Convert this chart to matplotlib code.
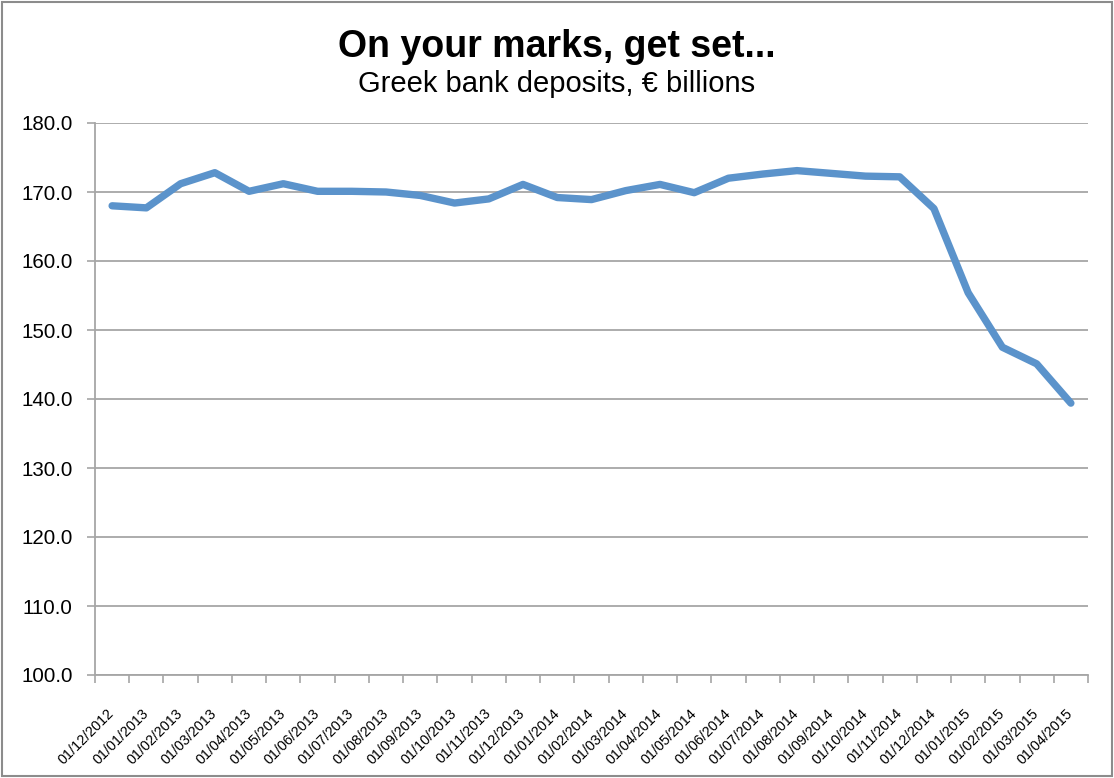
import matplotlib
matplotlib.use("Agg")
import matplotlib.pyplot as plt
from matplotlib.patches import Rectangle
from matplotlib.ticker import FixedLocator, FuncFormatter

plt.rcParams['font.family'] = ['Liberation Sans', 'DejaVu Sans']

dates = ["01/12/2012", "01/01/2013", "01/02/2013", "01/03/2013", "01/04/2013",
         "01/05/2013", "01/06/2013", "01/07/2013", "01/08/2013", "01/09/2013",
         "01/10/2013", "01/11/2013", "01/12/2013", "01/01/2014", "01/02/2014",
         "01/03/2014", "01/04/2014", "01/05/2014", "01/06/2014", "01/07/2014",
         "01/08/2014", "01/09/2014", "01/10/2014", "01/11/2014", "01/12/2014",
         "01/01/2015", "01/02/2015", "01/03/2015", "01/04/2015"]
deposits = [168.0, 167.7, 171.2, 172.8, 170.1,
            171.2, 170.1, 170.1, 170.0, 169.5,
            168.4, 169.0, 171.1, 169.2, 168.9,
            170.2, 171.1, 169.9, 172.0, 172.6,
            173.1, 172.7, 172.3, 172.2, 167.6,
            155.4, 147.5, 145.1, 139.4]
yticks = [100, 110, 120, 130, 140, 150, 160, 170, 180]

title = "On your marks, get set..."
subtitle = "Greek bank deposits, \u20ac billions"

fig = plt.figure(figsize=(11.14, 7.78), dpi=100)
ax = fig.add_axes([95/1114, 1 - 675/778, (1088-95)/1114, (675-123)/778])

x = list(range(len(dates)))
ax.plot(x, deposits, color="#5B93CB", lw=5.3, solid_capstyle="round",
        solid_joinstyle="round", zorder=3)

ax.set_xlim(-0.5, len(dates) - 0.5)
ax.set_ylim(100, 180)
ax.set_yticks(yticks)
ax.yaxis.set_major_formatter(FuncFormatter(lambda v, p: f"{v:.1f}"))
ax.grid(axis="y", color="#A6A6A6", lw=1.3, zorder=1)
ax.tick_params(axis="y", length=6, width=1.2, color="#A6A6A6", labelsize=14.8, pad=10)

ax.set_xticks(x)
ax.set_xticklabels(dates, rotation=45, ha="right", va="center",
                   rotation_mode="anchor", fontsize=10.4)
ax.tick_params(axis="x", which="major", length=0, pad=26)
ax.xaxis.set_minor_locator(FixedLocator([i - 0.5 for i in range(len(dates) + 1)]))
ax.tick_params(axis="x", which="minor", length=6, width=1.2, color="#A6A6A6")

for s in ["top", "right"]:
    ax.spines[s].set_visible(False)
for s in ["left", "bottom"]:
    ax.spines[s].set_color("#A6A6A6")
    ax.spines[s].set_linewidth(1.3)

fig.text(0.5, 1 - 57/778, title, ha="center", va="baseline",
         fontsize=27, fontweight="bold")
fig.text(0.5, 1 - 92/778, subtitle, ha="center", va="baseline", fontsize=21)

fig.patches.append(Rectangle((2/1114, 2/778), 1 - 4/1114, 1 - 4/778,
                             transform=fig.transFigure, fill=False,
                             edgecolor="#8C8C8C", lw=1.5))

fig.savefig("out.png", dpi=100)
